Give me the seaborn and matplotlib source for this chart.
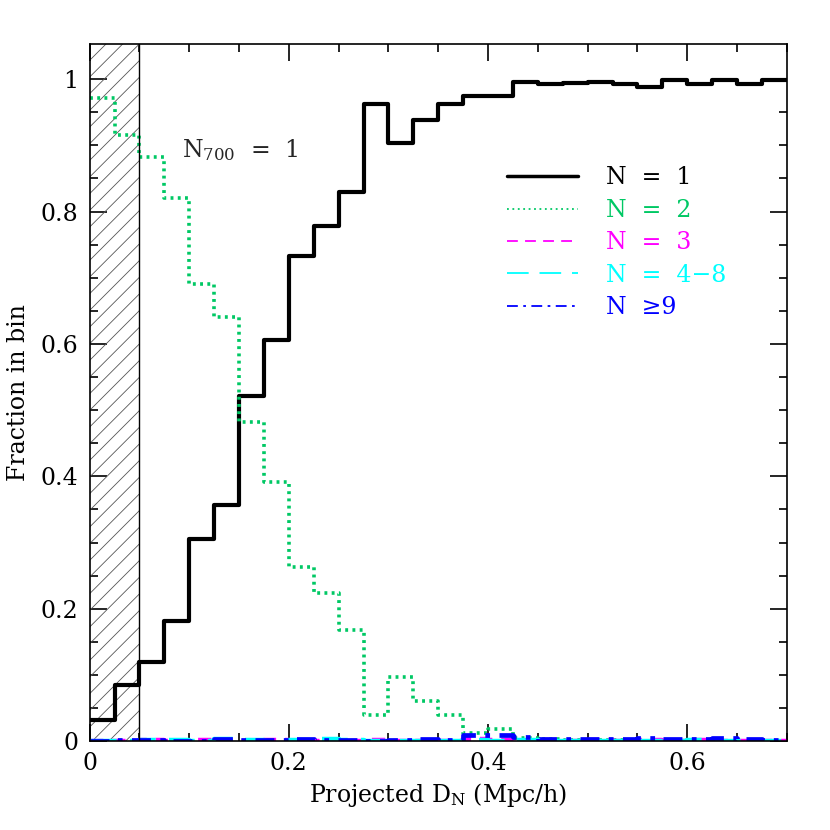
import numpy as np
import pandas as pd
import matplotlib
matplotlib.use('Agg')
import matplotlib.pyplot as plt
from matplotlib.lines import Line2D
import seaborn as sns

# bin edges in projected distance (Mpc/h), width 0.025
bin_lo = np.round(np.arange(0, 0.7, 0.025), 4)

frac_n1 = [0.032, 0.085, 0.119, 0.181, 0.305, 0.357, 0.521, 0.606, 0.733, 0.778,
           0.829, 0.962, 0.904, 0.938, 0.962, 0.975, 0.975, 0.996, 0.993, 0.994,
           0.996, 0.992, 0.988, 0.999, 0.992, 0.998, 0.993, 0.999]
frac_n2 = [0.971, 0.916, 0.883, 0.820, 0.691, 0.641, 0.482, 0.392, 0.263, 0.224,
           0.168, 0.039, 0.097, 0.061, 0.039, 0.013, 0.018, 0.005, 0.004, 0.002,
           0.002, 0.002, 0.001, 0.001, 0.001, 0.001, 0.001, 0.001]
frac_n3 = [0.000, 0.001, 0.002, 0.000, 0.002, 0.001, 0.000, 0.002, 0.000, 0.001,
           0.000, 0.002, 0.000, 0.001, 0.001, 0.004, 0.002, 0.001, 0.002, 0.001,
           0.002, 0.001, 0.002, 0.000, 0.002, 0.001, 0.001, 0.001]
frac_n48 = [0.000, 0.001, 0.002, 0.002, 0.001, 0.003, 0.002, 0.001, 0.002, 0.003,
            0.002, 0.001, 0.000, 0.001, 0.001, 0.002, 0.001, 0.002, 0.001, 0.001,
            0.000, 0.001, 0.001, 0.001, 0.002, 0.001, 0.001, 0.000]
frac_n9 = [0.001, 0.002, 0.002, 0.001, 0.001, 0.003, 0.002, 0.002, 0.003, 0.002,
           0.002, 0.001, 0.002, 0.003, 0.002, 0.009, 0.010, 0.006, 0.004, 0.004,
           0.003, 0.004, 0.005, 0.004, 0.004, 0.005, 0.004, 0.002]

series = [
    ("N  =  1", frac_n1, "black", "-", 3.0),
    ("N  =  2", frac_n2, "#00c864", (0, (0.8, 1.2)), 2.6),
    ("N  =  3", frac_n3, "#ff00ff", (0, (3, 2)), 3.2),
    ("N  =  4\u22128", frac_n48, "#00ffff", (0, (6, 3)), 3.2),
    ("N  \u22659", frac_n9, "#0000ff", (0, (4, 2, 1, 2)), 3.4),
]
legend_styles = ["-", (0, (1, 2)), (0, (6, 4)), (0, (12, 6)), (0, (6, 3, 1.5, 3))]

sns.set_style("ticks")
plt.rcParams['font.family'] = ['DejaVu Serif', 'DejaVu Sans']
plt.rcParams['mathtext.fontset'] = 'dejavuserif'
plt.rcParams['hatch.linewidth'] = 0.6
plt.rcParams['hatch.color'] = '#555555'

fig = plt.figure(figsize=(8.3, 8.3), dpi=100)
ax = fig.add_axes([0.108, 0.107, 0.840, 0.840])

for label, vals, col, ls, lw in series:
    df = pd.DataFrame({"d": bin_lo + 0.0125, "frac": vals})
    sns.histplot(data=df, x="d", weights="frac", bins=len(bin_lo), binrange=(0, 0.7),
                 element="step", fill=False, color=col, linestyle=ls,
                 linewidth=lw, ax=ax)

# excluded region
ax.axvspan(0, 0.05, facecolor='none', edgecolor='#555555', hatch='//', linewidth=0)
ax.axvline(0.05, color='black', lw=1.0)

ax.set_xlim(0, 0.7)
ax.set_ylim(0, 1.053)
ax.set_xticks([0, 0.2, 0.4, 0.6])
ax.set_xticklabels(["0", "0.2", "0.4", "0.6"])
ax.set_yticks([0, 0.2, 0.4, 0.6, 0.8, 1.0])
ax.set_yticklabels(["0", "0.2", "0.4", "0.6", "0.8", "1"])
ax.set_xticks(np.arange(0, 0.701, 0.05), minor=True)
ax.set_yticks(np.arange(0, 1.05, 0.05), minor=True)
ax.tick_params(which='both', direction='in', top=True, right=True, width=1.2,
               color='black', labelcolor='black')
ax.tick_params(which='major', length=12, labelsize=17, pad=8)
ax.tick_params(which='minor', length=6)
for s in ax.spines.values():
    s.set_linewidth(1.2)
    s.set_color('black')

ax.set_xlabel("Projected D$_\\mathregular{N}$ (Mpc/h)", fontsize=17, labelpad=4,
              color='black')
ax.set_ylabel("Fraction in bin", fontsize=17, labelpad=8, color='black')

ax.text(0.093, 0.893, "N$_{\\mathregular{700}}$  =  1", fontsize=17, va='center')

handles = [Line2D([], [], color=c, linestyle=ls, lw=2.5 if i == 0 else 1.3)
           for i, ((_, _, c, _, _), ls) in enumerate(zip(series, legend_styles))]
leg = ax.legend(handles, [s[0] for s in series], loc='upper left',
                bbox_to_anchor=(0.568, 0.855), frameon=False, fontsize=17,
                handlelength=3.0, handletextpad=1.2, labelspacing=0.4,
                labelcolor=[s[2] for s in series])

fig.savefig("out.png", dpi=100)
